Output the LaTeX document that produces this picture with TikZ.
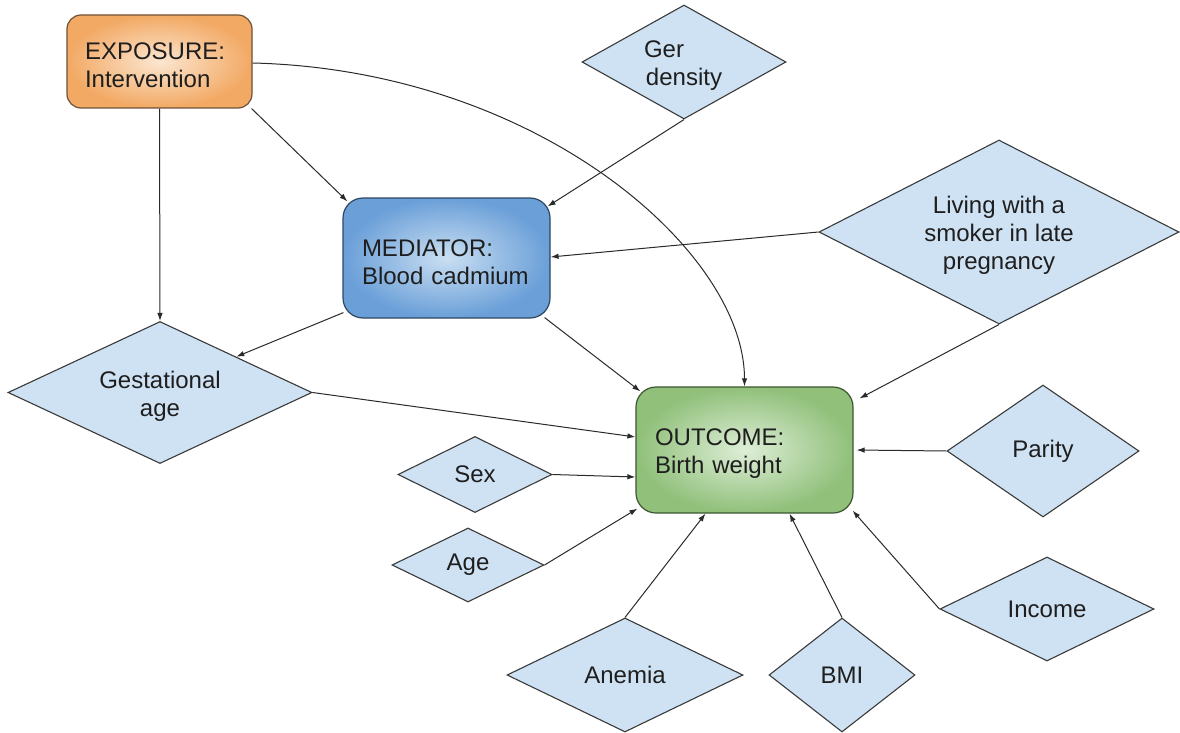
\documentclass[tikz,border=0pt]{standalone}
\usepackage{fontspec}
\setmainfont{Liberation Sans}
\usetikzlibrary{shapes.geometric,arrows.meta,calc}
\definecolor{txt}{HTML}{1E1E1E}
\definecolor{dfill}{HTML}{CFE2F3}
\definecolor{dline}{HTML}{3A3A3A}
\definecolor{orgin}{HTML}{FCE6D0}
\definecolor{orgout}{HTML}{F2A964}
\definecolor{orgline}{HTML}{6E5238}
\definecolor{bluin}{HTML}{CADFF2}
\definecolor{bluout}{HTML}{6A9FD8}
\definecolor{bluline}{HTML}{2E4660}
\definecolor{grnin}{HTML}{DEEED7}
\definecolor{grnout}{HTML}{90C07A}
\definecolor{grnline}{HTML}{3C5530}
\definecolor{edge}{HTML}{2A2A2A}
\newcommand\tupstrut{\rule{0pt}{24.5pt}}
\tikzset{
  lbl/.style={font=\fontsize{24}{28}\selectfont, text=txt},
  mainbox/.style={lbl, rectangle, rounded corners=20pt, line width=1.2pt, shade, shading=radial, align=left, inner xsep=19pt, inner ysep=0pt},
  var/.style={lbl, diamond, draw=dline, fill=dfill, line width=1.1pt, inner sep=0pt, align=center},
  conn/.style={draw=edge, line width=1pt, -{Latex[length=8pt,width=5.5pt]}}
}
\begin{document}
\begin{tikzpicture}[x=1pt,y=-1pt]
\useasboundingbox (0,0) rectangle (1180,733);

% main boxes
\node[mainbox, rounded corners=14pt, draw=orgline, inner color=orgin, outer color=orgout,
  minimum width=185pt, minimum height=93pt, text width=149pt, inner xsep=18pt] (exp) at (159.5,61.5) {\tupstrut EXPOSURE:\\Intervention};
\node[mainbox, draw=bluline, inner color=bluin, outer color=bluout,
  minimum width=207pt, minimum height=120pt, text width=169pt] (med) at (446.5,258) {\tupstrut MEDIATOR:\\Blood cadmium};
\node[mainbox, draw=grnline, inner color=grnin, outer color=grnout,
  minimum width=217pt, minimum height=126pt, text width=179pt] (out) at (744.5,450) {\tupstrut OUTCOME:\\Birth weight};

% confounders
\node[var, aspect=1.79, minimum width=204pt, minimum height=114pt] (ger) at (684,62) {\tupstrut Ger\hspace*{40pt}\\density};
\node[var, aspect=1.96, minimum width=360pt, minimum height=184pt] (liv) at (999,232) {\tupstrut Living with a\\smoker in late\\pregnancy};
\node[var, aspect=2.14, minimum width=304pt, minimum height=142pt] (gest) at (160,392.5) {\tupstrut Gestational\\age};
\node[var, aspect=2.0, minimum width=154pt, minimum height=76pt] (sex) at (475,474.5) {Sex};
\node[var, aspect=2.0, minimum width=152pt, minimum height=74pt] (age) at (468,565) {Age};
\node[var, aspect=2.07, minimum width=236pt, minimum height=114pt] (anem) at (625,675) {Anemia};
\node[var, aspect=1.28, minimum width=146pt, minimum height=114pt] (bmi) at (842,675) {BMI};
\node[var, aspect=1.45, minimum width=192pt, minimum height=132pt] (par) at (1043,451) {Parity};
\node[var, aspect=2.06, minimum width=214pt, minimum height=104pt] (inc) at (1047,609) {Income};

% connectors
\draw[conn] (exp.south) -- (gest.north);
\draw[conn] ($(exp.south east)+(-1,0)$) -- ($(med.north west)+(5,4)$);
\draw[conn] ($(exp.east)+(0,1.5)$) .. controls +(285,7) and +(0,-135) .. (out.north);
\draw[conn] (ger.south) -- ($(med.north east)+(-3,9)$);
\draw[conn] (liv.west) -- ($(med.east)+(0,-1)$);
\draw[conn] ($(med.south west)+(1,-6)$) -- (gest.north east);
\draw[conn] ($(med.south east)+(-6,-1)$) -- ($(out.north west)+(5,5)$);
\draw[conn] (gest.east) -- ($(out.west)+(0,-13)$);
\draw[conn] (sex.east) -- ($(out.west)+(0,27)$);
\draw[conn] (age.east) -- ($(out.south west)+(2,-5)$);
\draw[conn] (anem.north) -- ($(out.south)+(-39,0)$);
\draw[conn] (bmi.north) -- ($(out.south)+(45,0)$);
\draw[conn] (inc.west) -- ($(out.south east)+(-1,-3)$);
\draw[conn] (par.west) -- ($(out.east)+(3,0)$);
\draw[conn] (liv.south) -- ($(out.north east)+(6,12)$);
\end{tikzpicture}
\end{document}
